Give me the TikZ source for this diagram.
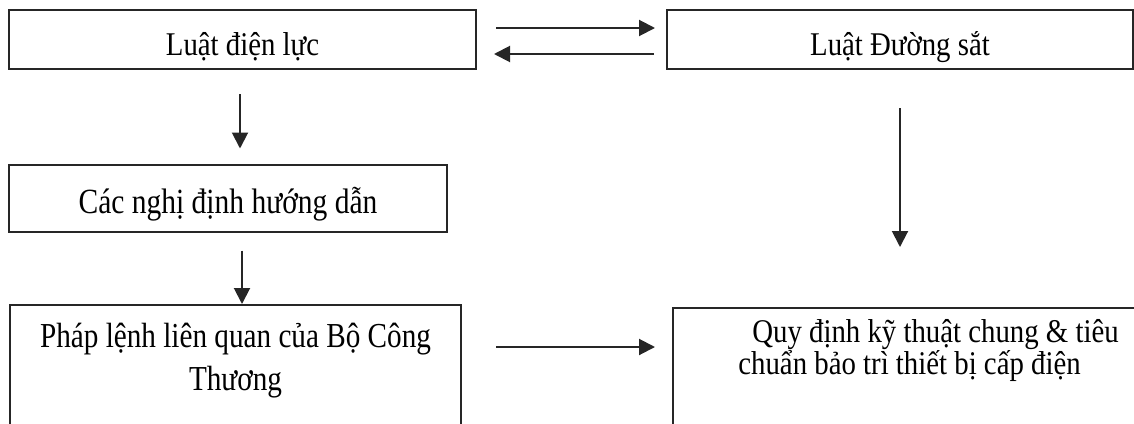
\documentclass[tikz,border=0pt]{standalone}
\usepackage{fontspec}
\usepackage{graphicx}
\setmainfont{Liberation Serif}
\usetikzlibrary{positioning,arrows.meta}

% letters a bit taller than Liberation Serif draws them
\newcommand{\tall}[1]{\scalebox{1}[1.15]{#1}}
\newcommand{\taller}[1]{\scalebox{1}[1.2]{#1}}
\newcommand{\noskip}{\lineskiplimit=-1000pt\relax}

\tikzset{
  box/.style={draw=black!85, line width=1pt, rectangle, inner sep=0pt},
  txt/.style={font=\fontsize{14.4pt}{16pt}\selectfont\noskip, inner sep=0pt},
  arr/.style={draw=black!85, line width=1pt, -{Triangle[length=8pt,width=8pt]}},
}

\begin{document}
\begin{tikzpicture}[x=0.5pt,y=-0.5pt]
\useasboundingbox (0,0) rectangle (1134,423);
\clip (0,0) rectangle (1134,423);

% upper row
\node[box, txt, minimum width=233.5pt, text height=22.5pt, text depth=7pt] (dl) at (242.5,39.5) {\tall{Luật điện lực}};
\node[box, txt, minimum width=233pt, text height=22.5pt, text depth=7pt] (ds) at (900,39.5) {\tall{Luật Đường sắt}};

% left column
\node[box, txt, font=\fontsize{14.75pt}{16pt}\selectfont, minimum width=219pt, text height=24.5pt, text depth=9pt] (nd) at (228,198) {\taller{Các nghị định hướng dẫn}};
\node[box, minimum width=225.5pt, minimum height=87.5pt] (pl) at (235.5,392.5) {};
\node[txt, align=center, anchor=base, font=\fontsize{14.6pt}{21.5pt}\selectfont\noskip]
  (plt) at ([yshift=-43pt]pl.north) {\taller{Pháp lệnh liên quan của Bộ Công}\\\taller{Thương}};

% right column
\node[box, minimum width=263.5pt, minimum height=86pt] (qd) at (936.5,394) {};
\node[txt, align=left, anchor=base west]
  (qdt) at ([xshift=33pt,yshift=-33.5pt]qd.north west)
  {\hspace{7pt}\tall{Quy định kỹ thuật chung \& tiêu}\\\tall{chuẩn bảo trì thiết bị cấp điện}};

% connectors
\draw[arr, shorten <=9.5pt, shorten >=5.5pt] ([yshift=5.75pt]dl.east) -- ([yshift=5.75pt]dl.east -| ds.west);
\draw[arr, shorten <=6pt, shorten >=8.5pt] ([yshift=-7.25pt]ds.west) -- ([yshift=-7.25pt]ds.west -| dl.east);
\draw[arr, shorten <=12pt, shorten >=7.5pt] ([xshift=-1.25pt]dl.south) -- ([xshift=-1.25pt]dl.south |- nd.north);
\draw[arr, shorten <=9pt] ([xshift=7pt]nd.south) -- ([xshift=7pt]nd.south |- pl.north);
\draw[arr, shorten <=19pt, shorten >=30pt] (ds.south) -- (ds.south |- qd.north);
\draw[arr, shorten <=17pt, shorten >=8.5pt] ([yshift=-21.5pt]pl.north east) -- ([yshift=-21.5pt]pl.north east -| qd.west);
\end{tikzpicture}
\end{document}
